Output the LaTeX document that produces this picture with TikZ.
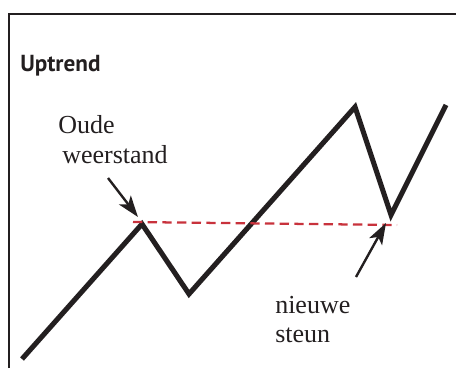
\documentclass[tikz,border=0pt]{standalone}
\usepackage{fontspec}
\setmainfont{Liberation Serif}
\newfontfamily\titlefont{PT Sans}
\usetikzlibrary{arrows.meta}

\definecolor{ink}{HTML}{231F20}
\definecolor{trendred}{HTML}{C8323C}

\begin{document}
\begin{tikzpicture}[
    x=0.75pt, y=-0.75pt,
    frame/.style={draw=ink, line width=1.6pt},
    trend/.style={draw=ink, line width=3.8pt, line join=miter, miter limit=4},
    level/.style={draw=trendred, line width=1.7pt, dash pattern=on 7pt off 4pt},
    pointer/.style={draw=ink, line width=1.8pt, -{Stealth[length=16pt, width=11pt, inset=4pt]}},
    lbl/.style={anchor=base west, inner sep=0pt, text=ink, font=\fontsize{19.5}{22}\selectfont},
    ttl/.style={anchor=base west, inner sep=0pt, text=ink, font=\titlefont\bfseries\fontsize{17.4}{20}\selectfont}
]
    \useasboundingbox (0,0) rectangle (456,368);

    % cropped frame
    \draw[frame] (9,368) -- (9,14) -- (456,14);

    \node[ttl] (title) at (20,71) {Uptrend};

    % zigzag
    \coordinate (start) at (22,359);
    \coordinate (peaka) at (142,224);
    \coordinate (lowa) at (189,294);
    \coordinate (peakb) at (355,107);
    \coordinate (lowb) at (391,215);
    \coordinate (end) at (446,105);
    \draw[trend] (start) -- (peaka) -- (lowa) -- (peakb) -- (lowb) -- (end);

    % old resistance = new support
    \coordinate (levelw) at (133,222);
    \coordinate (levele) at (397,225);
    \draw[level] (levelw) -- (levele);

    \node[lbl] (oude) at (58,133) {Oude};
    \node[lbl] (weer) at (62,163) {weerstand};
    \node[lbl] (nieuwe) at (275,313) {nieuwe};
    \node[lbl] (steun) at (275,342) {steun};

    \coordinate (taila) at (108,178);
    \coordinate (tipa) at (138,217);
    \coordinate (tailb) at (356,277);
    \coordinate (tipb) at (386,223);
    \draw[pointer] (taila) -- (tipa);
    \draw[pointer] (tailb) -- (tipb);
\end{tikzpicture}
\end{document}
